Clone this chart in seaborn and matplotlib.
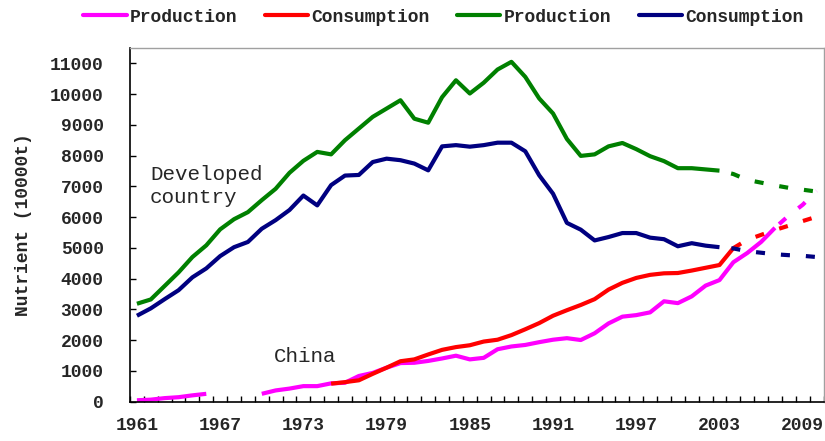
import numpy as np
import pandas as pd
import matplotlib
matplotlib.use("Agg")
import matplotlib.pyplot as plt
import seaborn as sns
from matplotlib.ticker import FixedLocator
from matplotlib.lines import Line2D

years = list(range(1961, 2011))

# Developed country production (solid 1961-2003, projection 2003-2010)
dev_prod = [3180, 3320, 3760, 4200, 4700, 5080, 5600, 5930, 6160, 6550,
            6920, 7440, 7830, 8120, 8040, 8500, 8880, 9260, 9530, 9800,
            9200, 9070, 9900, 10450, 10020, 10370, 10800, 11050, 10560, 9860,
            9370, 8540, 7990, 8040, 8300, 8410, 8210, 7980, 7820, 7590,
            7590, 7550, 7510]
dev_prod_proj_years = [2003, 2004, 2005, 2006, 2007, 2008, 2009, 2010]
dev_prod_proj = [7510, 7400, 7210, 7120, 7030, 6950, 6890, 6830]

# Developed country consumption
dev_cons = [2790, 3030, 3330, 3620, 4040, 4330, 4730, 5020, 5190, 5620,
            5900, 6230, 6700, 6380, 7040, 7350, 7370, 7790, 7900, 7850,
            7740, 7520, 8300, 8340, 8290, 8340, 8420, 8420, 8140, 7360,
            6760, 5810, 5590, 5240, 5350, 5480, 5480, 5330, 5280, 5050,
            5150, 5070, 5020]
dev_cons_proj_years = [2003, 2004, 2005, 2006, 2007, 2008, 2009, 2010]
dev_cons_proj = [5020, 4980, 4890, 4840, 4790, 4760, 4740, 4700]

# China production (gap 1967-1969)
cn_prod_a_years = [1961, 1962, 1963, 1964, 1965, 1966]
cn_prod_a = [40, 60, 110, 140, 200, 250]
cn_prod_b_years = list(range(1970, 2008))
cn_prod_b = [250, 360, 420, 500, 500, 590, 610, 830, 930, 1100,
             1250, 1260, 1320, 1400, 1490, 1370, 1420, 1700, 1790, 1840,
             1930, 2010, 2060, 2000, 2220, 2540, 2760, 2810, 2900, 3260,
             3200, 3420, 3770, 3950, 4530, 4830, 5190, 5650]
cn_prod_proj_years = [2007, 2008, 2009, 2010]
cn_prod_proj = [5650, 6050, 6400, 6850]

# China consumption
cn_cons_years = list(range(1975, 2005))
cn_cons = [580, 630, 690, 900, 1100, 1310, 1370, 1530, 1680, 1770,
           1830, 1950, 2010, 2160, 2350, 2550, 2790, 2970, 3140, 3330,
           3640, 3860, 4020, 4120, 4170, 4180, 4260, 4350, 4440, 4990]
cn_cons_proj_years = [2004, 2005, 2006, 2007, 2008, 2009, 2010]
cn_cons_proj = [4990, 5260, 5420, 5580, 5720, 5870, 6010]

legend_labels = ["Production", "Consumption", "Production", "Consumption"]
tick_years = [1961, 1967, 1973, 1979, 1985, 1991, 1997, 2003, 2009]
y_ticks = list(range(0, 12000, 1000))

PINK, RED, GREEN, NAVY = "#FF00FF", "#FF0000", "#008000", "#000080"

sns.set_style("white")
plt.rcParams["font.family"] = ["Liberation Mono", "DejaVu Sans Mono"]
plt.rcParams["lines.scale_dashes"] = False

fig = plt.figure(figsize=(8.25, 4.41), dpi=100)
ax = fig.add_axes([130 / 825, 39.5 / 441, (823.5 - 130) / 825, (401.5 - 48) / 441])

LW = 3.0

def seg(xs, ys, color, ls="-"):
    d = pd.DataFrame({"year": xs, "value": ys})
    sns.lineplot(data=d, x="year", y="value", ax=ax, color=color, linewidth=LW,
                 linestyle=ls, estimator=None, sort=False, solid_capstyle="butt",
                 dash_capstyle="butt")

dash = lambda off: (off, (6.5, 11.5))

# China production
seg(cn_prod_a_years, cn_prod_a, PINK)
seg(cn_prod_b_years, cn_prod_b, PINK)
seg(cn_prod_proj_years, cn_prod_proj, PINK, dash(14.0))
# China consumption
seg(cn_cons_years, cn_cons, RED)
seg(cn_cons_proj_years, cn_cons_proj, RED, dash(0.0))
# Developed production
seg(years[:43], dev_prod, GREEN)
seg(dev_prod_proj_years, dev_prod_proj, GREEN, dash(9.4))
# Developed consumption
seg(years[:43], dev_cons, NAVY)
seg(dev_cons_proj_years, dev_cons_proj, NAVY, dash(9.4))

ax.set_xlim(1960.5, 2010.5)
ax.set_ylim(0, 11500)
ax.xaxis.set_major_locator(FixedLocator(tick_years))
ax.set_xticklabels([str(y) for y in tick_years])
ax.xaxis.set_minor_locator(FixedLocator([1960.5 + k for k in range(51)]))
ax.yaxis.set_major_locator(FixedLocator(y_ticks))
ax.set_yticklabels([str(v) for v in y_ticks])

ax.tick_params(axis="x", which="major", length=0, pad=11, labelsize=13)
ax.tick_params(axis="x", which="minor", direction="in", length=4, width=1, color="black", bottom=True)
ax.tick_params(axis="y", which="major", direction="in", length=4, width=1, color="black", left=True,
               pad=19, labelsize=13)
for lab in ax.get_xticklabels() + ax.get_yticklabels():
    lab.set_fontweight("bold")

for s in ["left", "bottom"]:
    ax.spines[s].set_color("black")
    ax.spines[s].set_linewidth(1.2)
for s in ["top", "right"]:
    ax.spines[s].set_color("#A0A0A0")
    ax.spines[s].set_linewidth(1.0)

ax.set_xlabel("")
ax.set_ylabel("Nutrient (10000t)", fontsize=13, fontweight="bold", labelpad=13)

ax.text(1961.94, 7010, "Developed\ncountry", fontsize=15, va="center", ha="left", linespacing=1.3)
ax.text(1970.9, 1450, "China", fontsize=15, va="center", ha="left")

handles = [Line2D([], [], color=c, lw=LW) for c in (PINK, RED, GREEN, NAVY)]
fig.legend(handles, legend_labels, loc="center", bbox_to_anchor=(0.5376, 0.961), ncol=4,
           frameon=False, prop={"size": 13, "weight": "bold"}, handlelength=2.4,
           handletextpad=0.2, columnspacing=1.5)

fig.savefig("out.png", dpi=100)
